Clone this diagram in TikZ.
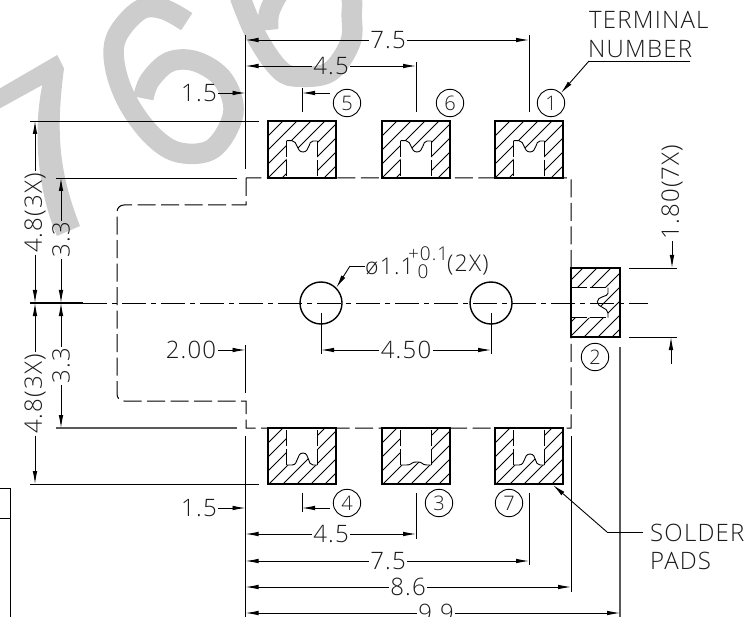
\documentclass[tikz,border=0pt]{standalone}
\usepackage{fontspec}
\setmainfont{Open Sans}[UprightFont=* Light,LetterSpace=5]
\usetikzlibrary{arrows.meta}
\definecolor{wm}{HTML}{CDCDCD}
\definecolor{ink}{HTML}{1A1A1A}
\tikzset{
  x=1pt,y=-1pt,
  ln/.style={draw=black,line width=0.9pt},
  greyln/.style={draw=black!65,line width=1.2pt},
  arr/.style={ln,-{Latex[length=13pt,width=4.6pt]}},
  dashln/.style={draw=black,line width=1pt,dash pattern=on 18pt off 5.5pt},
  notchln/.style={draw=black,line width=0.9pt,dash pattern=on 16pt off 3pt},
  centerln/.style={draw=black,line width=0.9pt,dash pattern=on 24pt off 5pt on 5pt off 5pt},
  padln/.style={draw=black,line width=1.7pt},
  hatchln/.style={draw=black,line width=0.85pt},
  txt/.style={text=ink,font=\fontsize{24}{24}\selectfont,inner sep=1.5pt},
  smalltxt/.style={text=ink,font=\fontsize{23}{23}\selectfont,inner sep=0pt},
  toltxt/.style={text=ink,font=\fontsize{19}{19}\selectfont,inner sep=0pt},
  numc/.style={circle,draw=black,line width=0.9pt,minimum size=27.4pt,inner sep=0pt,text=ink,font=\fontsize{20}{20}\selectfont},
  holec/.style={circle,draw=black,line width=1.4pt,minimum size=42pt,inner sep=0pt},
  wmstroke/.style={draw=wm,line width=20.5pt},
}
\newcommand\hatchin[3]{\begin{scope}\clip #2;
  \foreach \c in {#1} \draw[hatchln] ({\c},0) -- ({\c-200},200);
  \fill[white] #3;
\end{scope}}
\newcommand\toppad[1]{\begin{scope}[shift={(#1,121)}]
  \hatchin{-13,1,...,125}{(0,0) rectangle (68,57)}{(18.7,57) -- (18.7,19.7) -- (24,19.7) .. controls (30,20) and (28,31) .. (35,31) .. controls (42,31) and (40,20) .. (45,20) -- (49.3,20) -- (49.3,57) -- cycle}
  \draw[notchln] (18.7,19.7) -- (18.7,57);
  \draw[notchln] (49.3,19.7) -- (49.3,57);
  \draw[ln] (18.7,19.7) -- (24,19.7) .. controls (30,20) and (28,31) .. (35,31) .. controls (42,31) and (40,20) .. (45,20) -- (49.3,20);
  \draw[padln] (0,0) rectangle (68,57);
\end{scope}}
\newcommand\botpad[2]{\begin{scope}[shift={(#1,428)}]
  \hatchin{-13,1,...,125}{(0,0) rectangle (68,56)}{(18.7,0) -- (18.7,37) -- (24,37) .. controls (31,37) and (28,#2) .. (35,#2) .. controls (42,#2) and (39,37) .. (45,37) -- (49.3,37) -- (49.3,0) -- cycle}
  \draw[notchln] (18.7,37) -- (18.7,0);
  \draw[notchln] (49.3,37) -- (49.3,0);
  \draw[ln] (18.7,37) -- (24,37) .. controls (31,37) and (28,#2) .. (35,#2) .. controls (42,#2) and (39,37) .. (45,37) -- (49.3,37);
  \draw[padln] (0,0) rectangle (68,56);
\end{scope}}
\begin{document}
\begin{tikzpicture}
\useasboundingbox (0,0) rectangle (746,617);
\clip (0,0) rectangle (746,617);
% watermark
\fill[wm] (0,88.3) -- (57.3,55) -- (64,68.3) .. controls (56,130) and (58,170) .. (80,226) -- (57,236) .. controls (37,190) and (33,130) .. (42.3,85) -- (0,108.3) -- cycle;
\draw[wmstroke] plot[smooth,tension=0.6] coordinates {(186.7,21.7) (163,9) (140,10) (116.7,36.7) (115,66.7) (128.3,103.3) (153.3,136.7) (180,152.7) (213.3,148.3) (233.3,113.3) (223.3,80) (196.7,61.7) (170,61.7) (150,80) (143.3,98.3)};
\draw[wmstroke] plot[smooth,tension=0.6] coordinates {(240,-3) (256.7,36.7) (280,70) (300,76.7) (330,71.7) (350,43.3) (351.7,16.7) (348.3,-10) (316.7,-33.3) (286.7,-16.7) (270,10) (268.3,30)};
% body outline
\draw[dashln] (246,178) -- (246,205) -- (124,205) .. controls (120,205) and (117,208) .. (117,212) -- (117,394) .. controls (117,398) and (120,401) .. (124,401) -- (246,401) -- (246,428) -- (571,428) -- (571,178) -- cycle;
% centre line
\coordinate (cL) at (30,303);
\coordinate (cM) at (83,303);
\coordinate (cR) at (648,303);
\draw[line width=1.4pt,draw=black] (cL) -- (cM);
\draw[centerln] (cM) -- (cR);
% pads
\toppad{268}\toppad{382}\toppad{495}
\botpad{268}{25}\botpad{382}{34}\botpad{495}{26}
\begin{scope}[shift={(571,268)}]
  \hatchin{-2,12,...,140}{(0,0) rectangle (49,69)}{(0,19.7) -- (37,19.7) -- (37,25.3) .. controls (37,29) and (26.3,28) .. (26.3,33.7) .. controls (26.3,40) and (37,39) .. (37,45.3) -- (37,49.7) -- (0,49.7) -- cycle}
  \draw[notchln] (0,19.7) -- (37,19.7);
  \draw[notchln] (0,49.7) -- (37,49.7);
  \draw[ln] (37,19.7) -- (37,25.3) .. controls (37,29) and (26.3,28) .. (26.3,33.7) .. controls (26.3,40) and (37,39) .. (37,45.3) -- (37,49.7);
  \draw[padln] (0,0) rectangle (49,69);
  \draw[centerln] (-20,35) -- (77,35);
\end{scope}
% holes
\node[holec] (h1) at (321,303) {};
\node[holec] (h2) at (491,303) {};
% reference coordinates
\coordinate (xL) at (245.5,0);
\coordinate (x15) at (302,0);
\coordinate (x45) at (416,0);
\coordinate (x75) at (529,0);
\coordinate (x86) at (571,0);
\coordinate (x99) at (620,0);
\coordinate (xh1) at (321,0);
\coordinate (xh2) at (491,0);
\coordinate (yT) at (0,121);
\coordinate (yTb) at (0,178);
\coordinate (yC) at (0,303);
\coordinate (yBt) at (0,428);
\coordinate (yB) at (0,484);
\coordinate (yR1) at (0,268);
\coordinate (yR2) at (0,337);
% main extension lines
\draw[ln] (245.5,35) -- (245.5,169);
\draw[ln] (245.5,345) -- (245.5,393);
\draw[ln] (245.5,436) -- (245.5,617);
\draw[ln] (529,35) -- (529,112);
\draw[ln] (416,62) -- (416,112);
\draw[ln] (302,88) -- (302,112);
\draw[ln] (302,493) -- (302,512);
\draw[ln] (416,493) -- (416,539);
\draw[ln] (529,493) -- (529,565);
\draw[ln] (571,436) -- (571,592);
\draw[greyln] (620,347) -- (620,617);
\draw[ln] (30,121) -- (259,121);
\draw[ln] (30,484) -- (259,484);
\draw[ln] (56,178) -- (237,178);
\draw[greyln] (56,428) -- (237,428);
\draw[ln] (629,268) -- (677,268);
\draw[ln] (629,337) -- (677,337);
\draw[ln] (321,313) -- (321,354);
\draw[ln] (491,313) -- (491,354);
\draw[ln] (320,303) -- (322,303);
\draw[ln] (490,303) -- (492,303);
% top dimensions
\node[txt] (t75) at (388,40) {7.5};
\draw[arr] (t75.west) -- (xL |- t75);
\draw[arr] (t75.east) -- (x75 |- t75);
\node[txt] (t45) at (331,66) {4.5};
\draw[arr] (t45.west) -- (xL |- t45);
\draw[arr] (t45.east) -- (x45 |- t45);
\node[txt] (t15) at (199,93) {1.5};
\draw[arr] (t15.east) -- (xL |- t15);
\coordinate (t15r) at (330,93);
\draw[arr] (t15r) -- (x15 |- t15r);
% bottom dimensions
\node[txt] (b15) at (199,508) {1.5};
\draw[arr] (b15.east) -- (xL |- b15);
\coordinate (b15r) at (330,508);
\draw[arr] (b15r) -- (x15 |- b15r);
\node[txt] (b45) at (331,534) {4.5};
\draw[arr] (b45.west) -- (xL |- b45);
\draw[arr] (b45.east) -- (x45 |- b45);
\node[txt] (b75) at (388,561) {7.5};
\draw[arr] (b75.west) -- (xL |- b75);
\draw[arr] (b75.east) -- (x75 |- b75);
\node[txt] (b86) at (408,587) {8.6};
\draw[arr] (b86.west) -- (xL |- b86);
\draw[arr] (b86.east) -- (x86 |- b86);
\node[txt] (b99) at (436,613) {9.9};
\draw[arr] (b99.west) -- (xL |- b99);
\draw[arr] (b99.east) -- (x99 |- b99);
% inner dimensions
\node[txt] (t200) at (191,350) {2.00};
\draw[arr] (t200.east) -- (xL |- t200);
\node[txt] (t450) at (406,350) {4.50};
\draw[arr] (t450.west) -- (xh1 |- t450);
\draw[arr] (t450.east) -- (xh2 |- t450);
% left dimensions
\node[txt,rotate=90] (l48a) at (35,213) {4.8(3X)};
\draw[arr] (l48a.east) -- (l48a.east |- yT);
\draw[arr] (l48a.west) -- (l48a.west |- yC);
\node[txt,rotate=90] (l48b) at (35,394) {4.8(3X)};
\draw[arr] (l48b.east) -- (l48b.east |- yC);
\draw[arr] (l48b.west) -- (l48b.west |- yB);
\node[txt,rotate=90] (l33a) at (61,240) {3.3};
\draw[arr] (l33a.east) -- (l33a.east |- yTb);
\draw[arr] (l33a.west) -- (l33a.west |- yC);
\node[txt,rotate=90] (l33b) at (61,366) {3.3};
\draw[arr] (l33b.east) -- (l33b.east |- yC);
\draw[arr] (l33b.west) -- (l33b.west |- yBt);
% right dimension
\node[txt,rotate=90] (r180) at (672,192) {1.80(7X)};
\draw[arr] (r180.west) -- (r180.west |- yR1);
\coordinate (r180b) at (671,364);
\draw[arr] (r180b) -- (r180b |- yR2);
% terminal numbers
\node[numc] (n5) at (347,103) {5};
\node[numc] (n6) at (450,103) {6};
\node[numc] (n1) at (551,103) {1};
\node[numc] (n2) at (595,357) {2};
\node[numc] (n4) at (347,503) {4};
\node[numc] (n3) at (439,503) {3};
\node[numc] (n7) at (509,503) {7};
% leaders
\node[txt,anchor=west,inner sep=0pt] (tmA) at (589,20) {TERMINAL};
\node[txt,anchor=west,inner sep=0pt] (tmB) at (588,49) {NUMBER};
\coordinate (tmL) at (589,61);
\coordinate (tmR) at (690,61);
\draw[ln] (tmR) -- (tmL);
\draw[arr] (tmL) -- (n1.45);
\node[txt,anchor=west,inner sep=0pt] (spA) at (650,533) {SOLDER};
\node[txt,anchor=west,inner sep=0pt] (spB) at (650,561) {PADS};
\coordinate (spK) at (607,532);
\coordinate (spT) at (553,485);
\coordinate (spE) at (643,532);
\draw[ln] (spE) -- (spK);
\draw[arr] (spK) -- (spT);
% hole note
\node[smalltxt,anchor=west] (hn) at (365,266) {ø1.1};
\node[toltxt,anchor=west] (tu) at (408,254) {+0.1};
\node[toltxt] (tl) at (423,272) {0};
\node[smalltxt,anchor=west] (tx) at (447,265) {(2X)};
\coordinate (hk) at (350,266);
\draw[ln] (hn.west) -- (hk);
\draw[arr] (hk) -- (h1.45);
% table corner
\coordinate (bA) at (0,488);
\coordinate (bB) at (10,488);
\coordinate (bC) at (10,617);
\coordinate (bD) at (0,518);
\coordinate (bE) at (10,518);
\draw[ln] (bA) -- (bB) -- (bC);
\draw[ln] (bD) -- (bE);
\end{tikzpicture}
\end{document}
